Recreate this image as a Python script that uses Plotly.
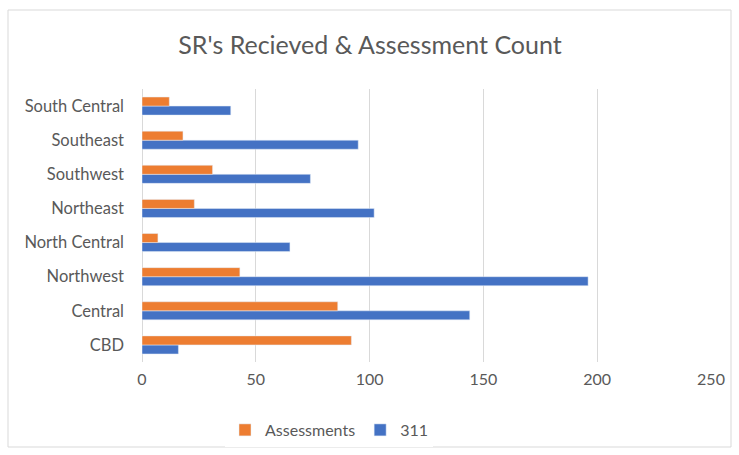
import plotly.graph_objects as go

categories = ["CBD", "Central", "Northwest", "North Central", "Northeast",
              "Southwest", "Southeast", "South Central"]
assessments = [92, 86, 43, 7, 23, 31, 18, 12]
calls_311 = [16, 144, 196, 65, 102, 74, 95, 39]
x_ticks = [0, 50, 100, 150, 200, 250]

FONT = "Lato, Calibri, Carlito, sans-serif"
GRAY = "#595959"

fig = go.Figure()
fig.add_trace(go.Bar(y=categories, x=calls_311, name="311", orientation="h",
                     marker=dict(color="#4472C4"), legendrank=2))
fig.add_trace(go.Bar(y=categories, x=assessments, name="Assessments", orientation="h",
                     marker=dict(color="#ED7D31"), legendrank=1))

W, H = 739, 455
L, R, T, B = 142, 28, 89, 93
pw, ph = W - L - R, H - T - B

def px_x(x):
    return (x - L) / pw

def px_y(y):
    return (H - B - y) / ph

fig.update_layout(
    width=W, height=H,
    margin=dict(l=L, r=R, t=T, b=B, autoexpand=False),
    paper_bgcolor="white", plot_bgcolor="white",
    barmode="group", bargap=0.47, bargroupgap=0,
    font=dict(family=FONT, color=GRAY, size=16),
    title=dict(text="SR's Recieved &amp; Assessment Count", x=370 / W, xanchor="center",
               y=1 - 45 / H, yanchor="middle", yref="container",
               font=dict(family=FONT, size=25, color=GRAY)),
    xaxis=dict(range=[0, 250], tickvals=x_ticks, showgrid=True, gridcolor="#d9d9d9",
               gridwidth=1, zeroline=True, zerolinecolor="#d9d9d9", zerolinewidth=1,
               showline=False, ticks="", ticklabelstandoff=6, automargin=False,
               tickfont=dict(size=16, color=GRAY), fixedrange=True),
    yaxis=dict(showgrid=False, ticks="", showline=False, ticklabelstandoff=17,
               automargin=False, tickfont=dict(size=16.5, color=GRAY)),
    legend=dict(orientation="h", x=px_x(329), xanchor="center", y=px_y(430), yanchor="middle",
                font=dict(size=16, color=GRAY), traceorder="normal", itemwidth=30),
    shapes=[dict(type="rect", xref="paper", yref="paper",
                 x0=px_x(8), x1=px_x(731), y0=px_y(447), y1=px_y(10),
                 line=dict(color="#d9d9d9", width=1), layer="below")],
)

fig.write_html("out.html", config={"displayModeBar": False},
               post_script="document.body.style.margin='0';document.body.style.padding='0';")
